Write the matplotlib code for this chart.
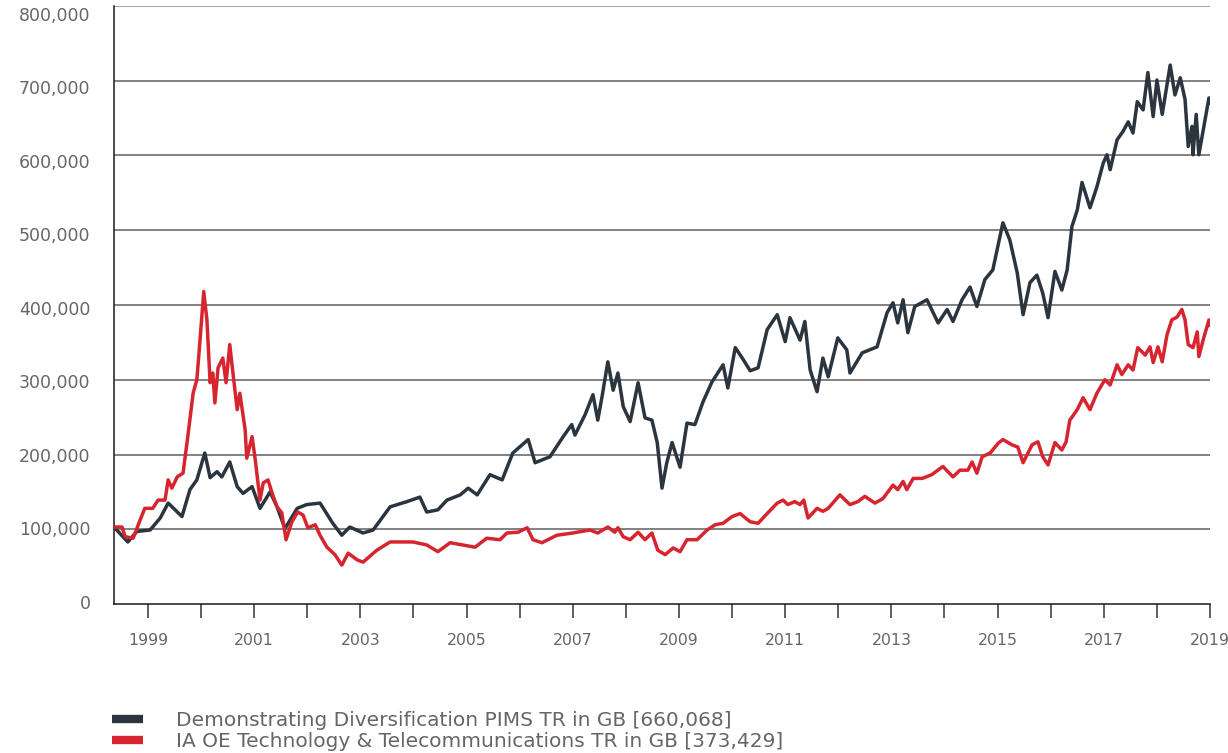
import matplotlib
matplotlib.use("Agg")
import matplotlib.pyplot as plt
from matplotlib.transforms import ScaledTranslation

# ---------------- data (decimal year, value in thousands) ----------------
pims_years = [1998.36, 1998.62, 1998.79, 1999.04, 1999.23, 1999.38, 1999.51, 1999.64, 1999.79, 1999.92,
              2000.07, 2000.17, 2000.30, 2000.39, 2000.54, 2000.68, 2000.79, 2000.96, 2001.11, 2001.30,
              2001.43, 2001.58, 2001.81, 2001.99, 2002.24, 2002.48, 2002.65, 2002.80, 2003.05, 2003.24,
              2003.56, 2003.88, 2004.12, 2004.25, 2004.46, 2004.63, 2004.88, 2005.03, 2005.20, 2005.44,
              2005.67, 2005.87, 2006.16, 2006.29, 2006.57, 2006.82, 2006.98, 2007.04, 2007.23, 2007.38,
              2007.47, 2007.55, 2007.66, 2007.76, 2007.85, 2007.95, 2008.08, 2008.23, 2008.36, 2008.49,
              2008.59, 2008.68, 2008.77, 2008.87, 2009.02, 2009.15, 2009.30, 2009.45, 2009.62, 2009.83,
              2009.92, 2010.06, 2010.21, 2010.34, 2010.49, 2010.66, 2010.85, 2011.00, 2011.09, 2011.28,
              2011.37, 2011.47, 2011.60, 2011.71, 2011.81, 2011.99, 2012.16, 2012.22, 2012.45, 2012.73,
              2012.92, 2013.03, 2013.12, 2013.22, 2013.31, 2013.44, 2013.67, 2013.88, 2014.05, 2014.16,
              2014.33, 2014.48, 2014.61, 2014.76, 2014.91, 2015.10, 2015.23, 2015.37, 2015.48, 2015.61,
              2015.74, 2015.85, 2015.95, 2016.08, 2016.21, 2016.31, 2016.40, 2016.50, 2016.59, 2016.74,
              2016.87, 2016.99, 2017.06, 2017.12, 2017.25, 2017.36, 2017.46, 2017.55, 2017.63, 2017.74,
              2017.83, 2017.93, 2018.00, 2018.10, 2018.25, 2018.34, 2018.44, 2018.53, 2018.59, 2018.66,
              2018.68, 2018.74, 2018.79, 2018.85, 2018.94, 2018.98, 2019.00]
pims_values = [103, 83, 97, 99, 115, 135, 126, 117, 153, 166,
               202, 169, 177, 170, 190, 157, 148, 157, 128, 150,
               130, 101, 128, 133, 135, 108, 92, 103, 95, 99,
               130, 137, 143, 123, 126, 139, 146, 155, 146, 173,
               166, 202, 220, 189, 197, 224, 240, 226, 253, 280,
               246, 277, 324, 286, 309, 264, 244, 296, 249, 246,
               216, 155, 189, 216, 183, 242, 240, 270, 297, 320,
               289, 343, 327, 312, 316, 367, 387, 351, 383, 353,
               378, 313, 284, 329, 304, 356, 340, 309, 336, 344,
               390, 403, 376, 407, 363, 398, 407, 376, 394, 378,
               407, 424, 398, 434, 447, 510, 487, 443, 387, 430,
               440, 416, 383, 445, 420, 447, 505, 527, 564, 530,
               558, 590, 601, 581, 621, 632, 645, 630, 672, 661,
               711, 652, 701, 655, 721, 681, 704, 675, 612, 639,
               601, 655, 601, 625, 661, 677, 670]

tech_years = [1998.38, 1998.51, 1998.57, 1998.72, 1998.85, 1998.94, 1999.09, 1999.19, 1999.32, 1999.38,
              1999.45, 1999.55, 1999.66, 1999.75, 1999.85, 1999.92, 1999.98, 2000.05, 2000.11, 2000.17,
              2000.22, 2000.26, 2000.32, 2000.41, 2000.47, 2000.54, 2000.60, 2000.68, 2000.73, 2000.83,
              2000.86, 2000.96, 2001.02, 2001.11, 2001.17, 2001.26, 2001.34, 2001.43, 2001.52, 2001.60,
              2001.71, 2001.82, 2001.92, 2002.01, 2002.15, 2002.24, 2002.37, 2002.52, 2002.65, 2002.77,
              2002.94, 2003.05, 2003.31, 2003.56, 2003.75, 2003.99, 2004.25, 2004.46, 2004.69, 2004.93,
              2005.16, 2005.38, 2005.63, 2005.76, 2005.97, 2006.14, 2006.25, 2006.42, 2006.70, 2007.00,
              2007.32, 2007.47, 2007.66, 2007.79, 2007.85, 2007.95, 2008.08, 2008.23, 2008.36, 2008.49,
              2008.60, 2008.74, 2008.89, 2009.02, 2009.15, 2009.34, 2009.53, 2009.68, 2009.83, 2010.00,
              2010.15, 2010.34, 2010.49, 2010.66, 2010.85, 2010.96, 2011.05, 2011.18, 2011.28, 2011.35,
              2011.43, 2011.60, 2011.71, 2011.81, 2012.03, 2012.22, 2012.37, 2012.50, 2012.69, 2012.84,
              2013.03, 2013.12, 2013.22, 2013.29, 2013.41, 2013.58, 2013.76, 2013.97, 2014.16, 2014.29,
              2014.44, 2014.52, 2014.61, 2014.71, 2014.86, 2015.01, 2015.10, 2015.27, 2015.38, 2015.48,
              2015.65, 2015.76, 2015.85, 2015.95, 2016.08, 2016.21, 2016.29, 2016.36, 2016.50, 2016.61,
              2016.74, 2016.87, 2017.02, 2017.12, 2017.25, 2017.34, 2017.46, 2017.55, 2017.64, 2017.78,
              2017.87, 2017.93, 2018.02, 2018.10, 2018.19, 2018.28, 2018.38, 2018.47, 2018.53, 2018.59,
              2018.68, 2018.76, 2018.79, 2018.87, 2018.98, 2019.00]
tech_values = [103, 103, 90, 88, 112, 128, 128, 139, 139, 166,
               155, 170, 175, 224, 282, 300, 353, 418, 380, 296,
               309, 269, 316, 329, 296, 347, 309, 260, 282, 233,
               195, 224, 193, 139, 162, 166, 148, 130, 122, 86,
               110, 123, 119, 102, 106, 92, 76, 66, 52, 68,
               59, 56, 72, 83, 83, 83, 79, 70, 82, 79,
               76, 88, 86, 95, 96, 102, 86, 82, 92, 95,
               99, 95, 103, 96, 102, 90, 86, 96, 86, 95,
               72, 66, 75, 70, 86, 86, 99, 106, 108, 117,
               121, 110, 108, 121, 135, 139, 133, 137, 133, 139,
               115, 128, 124, 128, 146, 133, 137, 144, 135, 141,
               159, 153, 164, 153, 168, 168, 173, 184, 170, 179,
               179, 190, 175, 197, 202, 215, 220, 213, 210, 189,
               213, 217, 197, 186, 216, 206, 217, 246, 260, 276,
               260, 282, 300, 293, 320, 307, 320, 313, 343, 333,
               344, 323, 344, 324, 360, 380, 384, 394, 380, 347,
               343, 364, 331, 353, 380, 373]

series_labels = ["Demonstrating Diversification PIMS TR in GB [660,068]",
                 "IA OE Technology & Telecommunications TR in GB [373,429]"]
series_colors = ["#2b3540", "#d7252f"]

y_ticks = [0, 100, 200, 300, 400, 500, 600, 700, 800]
y_tick_labels = ["0", "100,000", "200,000", "300,000", "400,000",
                 "500,000", "600,000", "700,000", "800,000"]
x_ticks = list(range(1999, 2020))
x_tick_labels = [str(y) if y % 2 == 1 else "" for y in x_ticks]

# ---------------- figure ----------------
plt.rcParams['font.family'] = ['DejaVu Sans']
W, H, DPI = 1228, 753, 100
fig = plt.figure(figsize=(W / DPI, H / DPI), dpi=DPI)
ax = fig.add_axes([114 / W, 1 - 604 / H, (1210 - 114) / W, (604 - 6) / H])

l1, = ax.plot(pims_years, pims_values, color=series_colors[0], lw=2.5, zorder=3,
              solid_joinstyle='round', label=series_labels[0])
l2, = ax.plot(tech_years, tech_values, color=series_colors[1], lw=2.5, zorder=4,
              solid_joinstyle='round', label=series_labels[1])

ax.set_xlim(1998.36, 2019.0)
ax.set_ylim(0, 800)

for v in y_ticks[1:]:
    ax.axhline(v, color="#5f5f5f" if v < 800 else "#8a8a8a", lw=1.1, zorder=1)

for s in ["top", "right"]:
    ax.spines[s].set_visible(False)
ax.spines["left"].set_color("#1a1a1a")
ax.spines["bottom"].set_color("#1a1a1a")
ax.spines["left"].set_linewidth(1.1)
ax.spines["bottom"].set_linewidth(1.1)

ax.set_xticks(x_ticks)
ax.set_xticklabels(x_tick_labels)
ax.tick_params(axis="x", direction="out", length=10, width=1.1, color="#333333",
               labelsize=11.3, labelcolor="#666666", pad=11)

ax.set_yticks(y_ticks)
ax.set_yticklabels(y_tick_labels)
ax.tick_params(axis="y", length=0, labelsize=12.5, labelcolor="#666666", pad=17)
for i, lab in enumerate(ax.get_yticklabels()):
    off = (-2 + 1.2 * i) / DPI
    lab.set_transform(lab.get_transform() + ScaledTranslation(0, -off, fig.dpi_scale_trans))

leg = fig.legend(handles=[l1, l2], loc="upper left",
                 bbox_to_anchor=(112 / W, 1 - 711 / H), frameon=False,
                 fontsize=14.5, handlelength=1.55, handletextpad=1.65,
                 labelspacing=0.12, borderpad=0, borderaxespad=0)
for h in leg.legend_handles:
    h.set_linewidth(6)
    h.set_solid_capstyle('butt')
for t in leg.get_texts():
    t.set_color("#666666")

fig.savefig("out.png", dpi=DPI)
